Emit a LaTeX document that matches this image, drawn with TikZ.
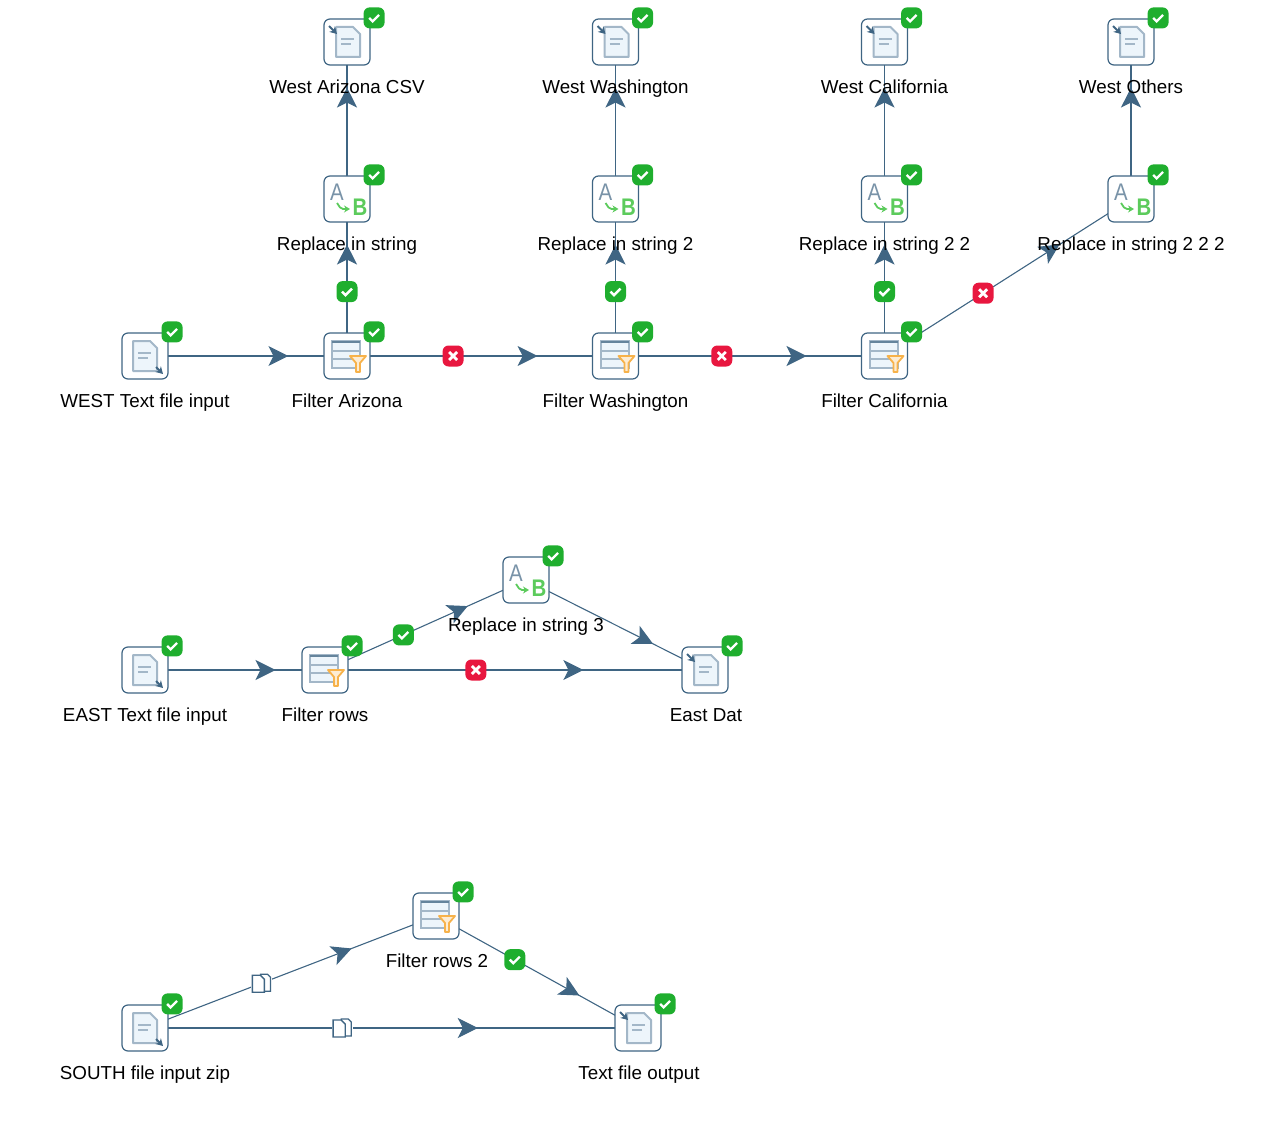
\documentclass[tikz,border=0pt]{standalone}
\usepackage{fontspec}
\setmainfont{Liberation Sans}
\usetikzlibrary{positioning,arrows.meta,decorations.markings,backgrounds}
\definecolor{hopblue}{HTML}{3F6583}
\definecolor{okgreen}{HTML}{1FAE2E}
\definecolor{badred}{HTML}{E8173F}
\definecolor{pagefill}{HTML}{EDF5FB}
\definecolor{pageline}{HTML}{A3B7C8}
\definecolor{funnel}{HTML}{F7B24A}
\definecolor{abgreen}{HTML}{5CCB5C}
\tikzset{
stepbox/.style = {draw=hopblue, fill=white, line width=1.2pt, rectangle, rounded corners=6pt, minimum size=46pt, inner sep=0pt},
caption/.style = {font=\fontsize{18.8}{20}\selectfont, text=black, inner sep=0pt, text height=13pt, text depth=4pt, node distance=47pt},
hop/.style = {draw=hopblue, line width=1.1pt, postaction={decorate},
  decoration={markings, mark=at position #1 with {\arrow[hopblue]{Stealth[length=20pt,width=20pt,inset=5pt]}}}},
hop/.default = 0.71,
okhop/.style = {fill=okgreen, rectangle, rounded corners=6pt, minimum size=21pt, inner sep=0pt,
  path picture={\draw[white,line width=2.4pt,sharp corners] (path picture bounding box.center)+(-5,0)--+(-1.5,-3.5)--+(5,3);}},
okbadge/.style = {okhop, xshift=3.5pt, yshift=0.5pt},
badhop/.style = {fill=badred, rectangle, rounded corners=6pt, minimum size=21pt, inner sep=0pt,
  path picture={\draw[white,line width=2.8pt,sharp corners] (path picture bounding box.center)+(-4,-4)--+(4,4) (path picture bounding box.center)+(-4,4)--+(4,-4);}},
copyhop/.style = {fill=white, rectangle, minimum size=21pt, inner sep=0pt,
  path picture={\draw[hopblue,line width=1.2pt,fill=white] (path picture bounding box.center)+(-1,9)--+(6,9)--+(9,6)--+(9,-8)--+(-1,-8)--cycle;
    \draw[hopblue,line width=1.4pt,fill=white] (path picture bounding box.center)+(-9,8)--+(-1,8)--+(3,4)--+(3,-9)--+(-9,-9)--cycle;}},
docpage/.pic = {
  \draw[pageline, fill=pagefill, line width=2pt, line join=round] (-12,15)--(5,15)--(12,8)--(12,-15)--(-12,-15)--cycle;
  \draw[pageline, line width=1.3pt] (-7,3)--(6,3) (-7,-2)--(3,-2);
},
docin/.pic = {
  \pic {docpage};
  \draw[-{Stealth[length=7pt,width=8pt]}, hopblue, line width=1.8pt] (11,-11)--(18,-18);
},
docout/.pic = {
  \pic at (1,0) {docpage};
  \draw[-{Stealth[length=7pt,width=8pt]}, hopblue, line width=1.8pt] (-18,16)--(-10,8);
},
filtericon/.pic = {
  \draw[pageline, fill=pagefill, line width=2pt] (-15,15) rectangle (13,-12);
  \draw[hopblue!80, line width=2.4pt] (-15,14)--(13,14);
  \draw[pageline, line width=1.8pt] (-15,5)--(13,5) (-15,-3)--(13,-3);
  \draw[funnel, fill=funnel!25, line width=1.8pt, line join=round] (3,0)--(19,0)--(13,-7)--(13,-16)--(9,-16)--(9,-7)--cycle;
},
replaceicon/.pic = {
  \node[text=hopblue!70, font=\fontsize{24}{24}\selectfont, inner sep=0pt, xscale=0.85] (-a) at (-10,7) {A};
  \node[text=abgreen, font=\fontsize{24}{24}\bfseries\selectfont, inner sep=0pt, xscale=0.85] (-b) at (13,-8) {B};
  \draw[-{Stealth[length=6pt,width=7pt]}, abgreen, line width=1.8pt, rounded corners=2pt] (-10,-4)--(-6,-10)--(3,-10);
}
}
\begin{document}
\begin{tikzpicture}[x=1pt,y=1pt]
\useasboundingbox (0,0) rectangle (1262,-1134);
% west
\node[stepbox] (wfile) at (145,-356) {};
\node[stepbox, right of=wfile, node distance=202pt] (farizona) {};
\node[stepbox, right of=farizona, node distance=268.5pt] (fwash) {};
\node[stepbox, right of=fwash, node distance=269pt] (fcalif) {};
\node[stepbox, above of=farizona, node distance=157pt] (rarizona) {};
\node[stepbox, above of=fwash, node distance=157pt] (rwash) {};
\node[stepbox, above of=fcalif, node distance=157pt] (rcalif) {};
\node[stepbox, right of=rcalif, node distance=246.5pt] (rothers) {};
\node[stepbox, above of=rarizona, node distance=157pt] (oarizona) {};
\node[stepbox, above of=rwash, node distance=157pt] (owash) {};
\node[stepbox, above of=rcalif, node distance=157pt] (ocalif) {};
\node[stepbox, above of=rothers, node distance=157pt] (oothers) {};
% east
\node[stepbox] (efile) at (145,-670) {};
\node[stepbox, right of=efile, node distance=180pt] (efilter) {};
\node[stepbox] (erepl) at (526,-580) {};
\node[stepbox, right of=efilter, node distance=380pt] (edat) {};
% south
\node[stepbox] (sfile) at (145,-1028) {};
\node[stepbox] (sfilter) at (436,-916) {};
\node[stepbox, right of=sfile, node distance=493pt] (soutput) {};

\begin{pgfonlayer}{background}
\draw[hop] (wfile.center) -- (farizona.center);
\draw[hop] (farizona.center) -- node[badhop,pos=0.395] (hopa) {} (fwash.center);
\draw[hop] (fwash.center) -- node[badhop,pos=0.395] (hopb) {} (fcalif.center);
\draw[hop] (fcalif.center) -- node[badhop,pos=0.4] (hopc) {} (rothers.center);
\draw[hop] (farizona.center) -- node[okhop,pos=0.41] (hopd) {} (rarizona.center);
\draw[hop] (fwash.center) -- node[okhop,pos=0.41] (hope) {} (rwash.center);
\draw[hop] (fcalif.center) -- node[okhop,pos=0.41] (hopf) {} (rcalif.center);
\draw[hop] (rarizona.center) -- (oarizona.center);
\draw[hop] (rwash.center) -- (owash.center);
\draw[hop] (rcalif.center) -- (ocalif.center);
\draw[hop] (rothers.center) -- (oothers.center);
\draw[hop=0.725] (efile.center) -- (efilter.center);
\draw[hop] (efilter.center) -- node[okhop,pos=0.39] (hopg) {} (erepl.center);
\draw[hop] (erepl.center) -- (edat.center);
\draw[hop=0.68] (efilter.center) -- node[badhop,pos=0.397] (hoph) {} (edat.center);
\draw[hop] (sfile.center) -- node[copyhop,pos=0.4] (hopi) {} (sfilter.center);
\draw[hop=0.675] (sfile.center) -- node[copyhop,pos=0.4] (hopj) {} (soutput.center);
\draw[hop] (sfilter.center) -- node[okhop,pos=0.39] (hopk) {} (soutput.center);
\end{pgfonlayer}

\pic at (wfile) {docin};
\pic at (sfile) {docin};
\pic at (efile) {docin};
\pic at (farizona) {filtericon};
\pic at (fwash) {filtericon};
\pic at (fcalif) {filtericon};
\pic at (efilter) {filtericon};
\pic at (sfilter) {filtericon};
\pic (ra) at (rarizona) {replaceicon};
\pic (rw) at (rwash) {replaceicon};
\pic (rc) at (rcalif) {replaceicon};
\pic (ro) at (rothers) {replaceicon};
\pic (re) at (erepl) {replaceicon};
\pic at (oarizona) {docout};
\pic at (owash) {docout};
\pic at (ocalif) {docout};
\pic at (oothers) {docout};
\pic at (edat) {docout};
\pic at (soutput) {docout};

\node[okbadge] (wfileok) at (wfile.north east) {};
\node[okbadge] (farizonaok) at (farizona.north east) {};
\node[okbadge] (fwashok) at (fwash.north east) {};
\node[okbadge] (fcalifok) at (fcalif.north east) {};
\node[okbadge] (rarizonaok) at (rarizona.north east) {};
\node[okbadge] (rwashok) at (rwash.north east) {};
\node[okbadge] (rcalifok) at (rcalif.north east) {};
\node[okbadge] (rothersok) at (rothers.north east) {};
\node[okbadge] (oarizonaok) at (oarizona.north east) {};
\node[okbadge] (owashok) at (owash.north east) {};
\node[okbadge] (ocalifok) at (ocalif.north east) {};
\node[okbadge] (oothersok) at (oothers.north east) {};
\node[okbadge] (efileok) at (efile.north east) {};
\node[okbadge] (efilterok) at (efilter.north east) {};
\node[okbadge] (ereplok) at (erepl.north east) {};
\node[okbadge] (edatok) at (edat.north east) {};
\node[okbadge] (sfileok) at (sfile.north east) {};
\node[okbadge] (sfilterok) at (sfilter.north east) {};
\node[okbadge] (soutputok) at (soutput.north east) {};

\node[caption, below of=wfile] (wfilel) {WEST Text file input};
\node[caption, below of=farizona] (farizonal) {Filter Arizona};
\node[caption, below of=fwash] (fwashl) {Filter Washington};
\node[caption, below of=fcalif] (fcalifl) {Filter California};
\node[caption, below of=rarizona] (rarizonal) {Replace in string};
\node[caption, below of=rwash] (rwashl) {Replace in string 2};
\node[caption, below of=rcalif] (rcalifl) {Replace in string 2 2};
\node[caption, below of=rothers] (rothersl) {Replace in string 2 2 2};
\node[caption, below of=oarizona] (oarizonal) {West Arizona CSV};
\node[caption, below of=owash] (owashl) {West Washington};
\node[caption, below of=ocalif] (ocalifl) {West California};
\node[caption, below of=oothers] (oothersl) {West Others};
\node[caption, below of=efile] (efilel) {EAST Text file input};
\node[caption, below of=efilter] (efilterl) {Filter rows};
\node[caption, below of=erepl] (erepll) {Replace in string 3};
\node[caption, below of=edat, xshift=1pt] (edatl) {East Dat};
\node[caption, below of=sfile] (sfilel) {SOUTH file input zip};
\node[caption, below of=sfilter, xshift=1pt] (sfilterl) {Filter rows 2};
\node[caption, below of=soutput, xshift=1pt] (soutputl) {Text file output};
\end{tikzpicture}
\end{document}
